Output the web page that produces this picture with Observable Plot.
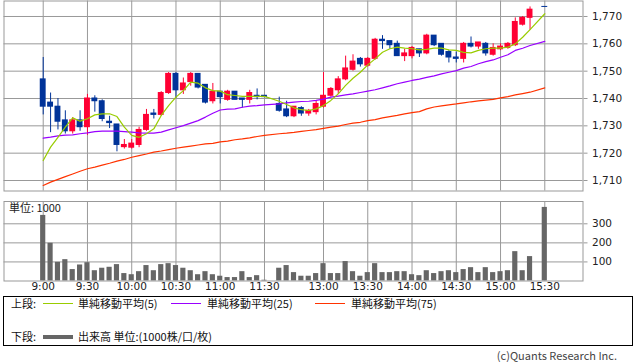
<!DOCTYPE html>
<html><head><meta charset="utf-8">
<script src="https://cdn.jsdelivr.net/npm/d3@7"></script>
<script src="https://cdn.jsdelivr.net/npm/@observablehq/plot@0.6"></script>
<style>
body{margin:0;background:#fff;}
#wrap{position:relative;width:638px;height:362px;overflow:hidden;font-family:"Noto Sans CJK JP",sans-serif;color:#111;}
#top,#vol{position:absolute;left:0;}
#top{top:0}
#vol{top:195px}
#legend{position:absolute;left:3px;top:296px;width:630px;height:50px;border:1px solid #000;box-sizing:border-box;}
.lg{position:absolute;font-size:11px;line-height:13px;white-space:nowrap;}
.ln{position:absolute;height:0;}
#cap{position:absolute;right:21px;top:349px;font-size:11px;line-height:13px;color:#444;font-family:"Noto Sans CJK JP",sans-serif;}
</style></head>
<body>
<div id="wrap">
  <div id="top"></div>
  <div id="vol"></div>
  <div id="legend"></div>
  <div class="lg" style="left:11px;top:297px">上段:</div>
  <div class="ln" style="left:43px;width:30px;top:303px;border-top:1px solid #99cc00"></div>
  <div class="lg" style="left:78px;top:297px">単純移動平均(5)</div>
  <div class="ln" style="left:171px;width:30px;top:303px;border-top:1px solid #9900ff"></div>
  <div class="lg" style="left:207px;top:297px">単純移動平均(25)</div>
  <div class="ln" style="left:315px;width:30px;top:303px;border-top:1px solid #ff3300"></div>
  <div class="lg" style="left:351px;top:297px">単純移動平均(75)</div>
  <div class="lg" style="left:11px;top:330px">下段:</div>
  <div class="ln" style="left:43px;width:30px;top:335px;border-top:4px solid #666666"></div>
  <div class="lg" style="left:78px;top:330px">出来高 単位:(1000株/口/枚)</div>
  <div id="cap">(c)Quants Research Inc.</div>
</div>
<script>
const times = ["9:00","9:05","9:10","9:15","9:20","9:25","9:30","9:35","9:40","9:45","9:50","9:55",
"10:00","10:05","10:10","10:15","10:20","10:25","10:30","10:35","10:40","10:45","10:50","10:55",
"11:00","11:05","11:10","11:15","11:20","11:25","11:30",
"12:30","12:35","12:40","12:45","12:50","12:55",
"13:00","13:05","13:10","13:15","13:20","13:25","13:30","13:35","13:40","13:45","13:50","13:55",
"14:00","14:05","14:10","14:15","14:20","14:25","14:30","14:35","14:40","14:45","14:50","14:55",
"15:00","15:05","15:10","15:15","15:20","15:30"];
const open = [1747,1738.5,1737,1732,1728,1732,1729.5,1740,1739,1731.5,1730.5,1722.2,
1722,1723,1728.5,1734.5,1734,1742,1749,1743,1746,1749,1745,1739,
1742.5,1739.5,1742.5,1740,1739.5,1741,1741,
1738,1736,1733.5,1736.5,1734.5,1735,
1737,1741,1743,1747,1750.5,1754.5,1752,1754.5,1761.5,1761,1760,1755.5,
1755.5,1758,1756.5,1763,1760,1757,1755,1754.5,1760,1759,1760,1756,
1758,1758.5,1759.5,1767,1769.5,1773.5];
const high = [1755,1742,1740,1735.5,1733,1735.5,1741.5,1741,1739.5,1733.5,1730.5,1725,
1725,1729.5,1736,1736,1742.5,1749.5,1749.5,1747.5,1749.5,1749,1745,1745.5,
1742.5,1743,1742.5,1740,1743,1743.5,1741,
1740.5,1739,1737,1737,1736,1739,
1749.5,1744,1748,1755.5,1756,1755,1755,1762,1763,1761,1761,1758,
1759,1758,1763.5,1763,1760,1757.5,1757,1760.5,1762.5,1760.5,1760.5,1760,
1760,1760.5,1769.5,1770,1773.5,1773.5];
const low = [1734,1727.5,1728.5,1727,1727,1728,1726.5,1735,1731.5,1729,1720.5,1721.5,
1721.5,1722,1728,1732.5,1733.5,1741.5,1740,1741.5,1744.5,1743.5,1738,1738,
1738,1739,1739.5,1736.5,1738,1739.5,1740.5,
1735,1733,1733,1733.5,1733.5,1734,
1736.5,1740.5,1741.5,1746.5,1750,1751.5,1751.5,1754,1758,1758,1755.5,1753.5,
1754.5,1755,1756,1759,1755.5,1753,1753,1753,1758.5,1758,1755.5,1755.5,
1757.5,1758,1759,1766.5,1765,1773.5];
const close = [1737,1737,1731.5,1728,1732,1729.5,1740,1739,1732.5,1731,1723,1723,
1723.5,1728.5,1734,1734,1742,1749,1743,1745.5,1749,1744,1738.5,1742.5,
1740.5,1742.5,1739.5,1739.5,1742,1740.5,1740.5,
1735.5,1733.5,1737,1734.5,1735.5,1738,
1741,1743.5,1747,1751,1753.5,1752.5,1754.5,1761.5,1761,1759.5,1755.5,1756.5,
1758.5,1756.5,1763,1759.5,1756,1755,1754.5,1760,1759,1760.5,1756.5,1758.5,
1759,1760,1768,1769.5,1772.5,1773.5];
const volume = [344,198,98,112,60,84,96,54,67,72,86,39,
33,49,81,54,86,91,81,67,54,33,49,33,
25,18,18,49,18,28,4,
67,81,44,25,25,39,
91,39,39,102,49,25,44,91,44,44,49,49,
33,28,54,39,49,54,44,60,70,44,70,44,
49,54,154,54,128,386];
const ma5 = [1717.3,1722.2,1725.8,1729.5,1732.9,1731.7,1732.6,1734.0,1734.4,1734.4,1733.4,1729.5,
1726.5,1725.8,1727.1,1728.9,1733.8,1737.4,1740.5,1742.9,1746.0,1745.6,1743.9,1742.9,
1742.7,1741.4,1741.1,1740.8,1740.8,1740.8,1740.8,
1739.0,1737.8,1736.6,1735.9,1735.6,1736.2,
1737.4,1739.3,1741.7,1744.8,1747.4,1749.6,1752.3,1754.5,1756.9,1758.2,1758.8,1758.4,
1758.2,1757.8,1758.0,1758.4,1758.4,1757.8,1757.6,1756.9,1756.7,1757.6,1758.2,1758.4,
1758.4,1758.8,1760.0,1762.4,1765.2,1771.0];
const ma25 = [1725.5,1725.85,1726.3,1726.6,1726.7,1727.1,1727.4,1727.9,1728.05,1728.05,1728.05,1727.9,
1727.7,1727.4,1727.3,1727.3,1727.7,1728.5,1729.3,1730.1,1731.0,1731.9,1733.2,1734.6,
1735.8,1736.1,1736.2,1736.8,1737.2,1737.4,1737.7,
1738.05,1738.4,1738.7,1738.9,1739.0,1739.3,
1739.8,1740.5,1740.9,1741.3,1741.7,1742.2,1742.7,1743.2,1743.9,1744.6,1745.4,1746.0,
1746.6,1747.1,1747.7,1748.3,1749.0,1749.6,1750.2,1751.1,1751.7,1752.7,1753.5,1754.1,
1755.1,1756.0,1757.6,1758.4,1759.4,1760.9];
const ma75 = [1708.2,1709.4,1710.4,1711.4,1712.4,1713.4,1714.3,1714.9,1715.6,1716.3,1717.1,1717.7,
1718.5,1719.1,1719.7,1720.4,1720.8,1721.3,1721.8,1722.2,1722.6,1723.0,1723.4,1723.6,
1724.1,1724.4,1724.9,1725.2,1725.6,1726.1,1726.5,
1727.1,1727.3,1727.6,1728.0,1728.3,1728.6,
1729.1,1729.5,1729.9,1730.5,1731.0,1731.3,1731.9,1732.3,1732.9,1733.4,1733.8,1734.4,
1734.8,1735.2,1736.2,1736.9,1737.3,1737.7,1738.0,1738.4,1738.8,1739.1,1739.4,1739.7,
1740.2,1740.7,1741.3,1741.8,1742.3,1743.9];
const tickLabels = ["9:00","9:30","10:00","10:30","11:00","11:30","13:00","13:30","14:00","14:30","15:00","15:30"];
const priceTicks = [1710,1720,1730,1740,1750,1760,1770];
const volumeTicks = [100,200,300];

// session timeline: morning 9:00-11:30, one empty slot, afternoon from 12:30
function slotOf(t){const [h,m]=t.split(":").map(Number);const mm=h*60+m-540;return mm<=150?mm/5:mm/5-10;}
const RED="#ff0033", BLUE="#003399", GRID="#999999";
const rows = times.map((t,i)=>({t,s:slotOf(t),o:open[i],h:high[i],l:low[i],c:close[i],v:volume[i],
  ma5:ma5[i],ma25:ma25[i],ma75:ma75[i],col:close[i]>open[i]?RED:BLUE}));
const tickSlots = tickLabels.map(slotOf);
const labelOf = new Map(tickSlots.map((s,i)=>[s,tickLabels[i]]));
const xdom = [-5.315, 73.18];
const st = {fontFamily:"DejaVu Sans",fontSize:"10.5px",background:"transparent",color:"#222",overflow:"visible"};

const topChart = Plot.plot({
  width:638, height:191, marginTop:0.5, marginBottom:0.5, marginLeft:3.5, marginRight:55.5,
  x:{type:"linear", domain:xdom, axis:null},
  y:{domain:[1706.16,1775.67], axis:null},
  color:{type:"identity"},
  style:st,
  marks:[
    Plot.ruleY(priceTicks,{stroke:GRID}),
    Plot.ruleX(tickSlots,{stroke:GRID}),
    Plot.frame({stroke:GRID}),
    Plot.axisY(priceTicks,{anchor:"right",label:null,tickSize:4,tickPadding:5,tickFormat:d3.format(","),stroke:GRID,fill:"#222"}),
    Plot.ruleX(rows,{x:"s",y1:"l",y2:"h",stroke:"col",strokeWidth:1}),
    Plot.rect(rows,{x1:d=>d.s-0.4,x2:d=>d.s+0.4,y1:"o",y2:"c",fill:"col",insetTop:-0.5,insetBottom:-0.5}),
    Plot.line(rows,{x:"s",y:"ma75",stroke:"#ff3300",strokeWidth:1.2}),
    Plot.line(rows,{x:"s",y:"ma25",stroke:"#9900ff",strokeWidth:1.2}),
    Plot.line(rows,{x:"s",y:"ma5",stroke:"#99cc00",strokeWidth:1.2})
  ]
});
document.getElementById("top").appendChild(topChart);

const volChart = Plot.plot({
  width:638, height:100, marginTop:6, marginBottom:14.5, marginLeft:3.5, marginRight:55.5,
  x:{type:"linear", domain:xdom, axis:null, label:null},
  y:{domain:[0,417], axis:null, label:null},
  style:st,
  marks:[
    Plot.ruleY(volumeTicks,{stroke:GRID}),
    Plot.ruleX(tickSlots,{stroke:GRID}),
    Plot.rect(rows,{x1:d=>d.s-0.35,x2:d=>d.s+0.35,y1:0,y2:"v",fill:"#666666"}),
    Plot.frame({stroke:GRID}),
    Plot.axisY(volumeTicks,{anchor:"right",label:null,tickSize:4,tickPadding:5,stroke:GRID,fill:"#222"}),
    Plot.axisX(tickSlots,{anchor:"bottom",label:null,tickSize:0,tickPadding:2,tickFormat:s=>labelOf.get(s),fill:"#222"}),
    Plot.text(["単位: 1000"],{frameAnchor:"top-left",dx:5,dy:3,textAnchor:"start",lineAnchor:"top",fontFamily:"Noto Sans CJK JP",fontSize:11,fill:"#222"})
  ]
});
document.getElementById("vol").appendChild(volChart);
</script>
</body></html>
